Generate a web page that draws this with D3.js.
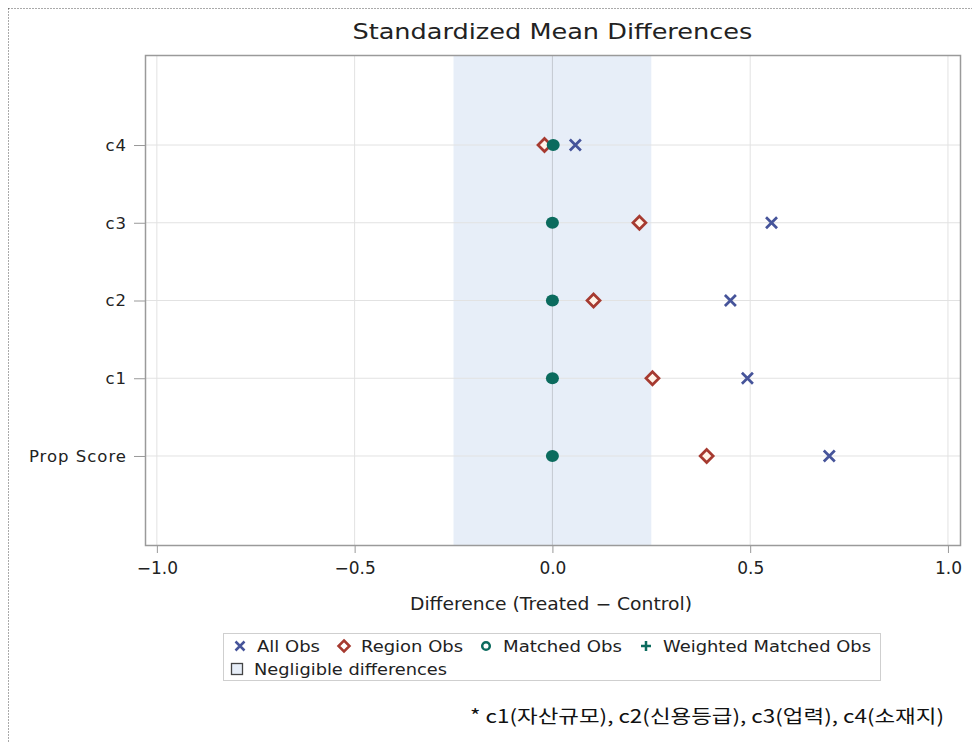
<!DOCTYPE html>
<html>
<head>
<meta charset="utf-8">
<script src="https://cdn.jsdelivr.net/npm/d3@7"></script>
<style>
  body { margin: 0; background: #fff; }
  svg { font-family: "DejaVu Sans", Verdana, sans-serif; }
</style>
</head>
<body>
<script>
// chart data
const categories = ["c4", "c3", "c2", "c1", "Prop Score"];
const allObs = [0.058, 0.554, 0.45, 0.493, 0.70];
const regionObs = [-0.02, 0.22, 0.104, 0.253, 0.39];
const matchedObs = [0.002, 0, 0, 0, 0];
const weightedObs = [0.002, 0, 0, 0, 0];
const xTicks = [-1.0, -0.5, 0.0, 0.5, 1.0];
const negligible = [-0.25, 0.25];

const width = 972, height = 742;
const margin = {top: 55, right: 11, bottom: 196, left: 145};

const colAll = "#46549a", colRegion = "#a63a30", colMatched = "#0b6b5e";
const textCol = "#222";

const svg = d3.select("body").append("svg")
  .attr("width", width)
  .attr("height", height);

// dotted outer border
svg.append("rect")
  .attr("x", 8.5).attr("y", 8.5)
  .attr("width", width + 20).attr("height", height + 20)
  .attr("fill", "none")
  .attr("stroke", "#555")
  .attr("stroke-dasharray", "1,2");

const x = d3.scaleLinear()
  .domain([-1.03, 1.033])
  .range([margin.left, width - margin.right]);

const y = d3.scalePoint()
  .domain(categories)
  .range([margin.top, height - margin.bottom])
  .padding(1.158);

const plotTop = margin.top, plotBottom = height - margin.bottom;

// negligible band
svg.append("rect")
  .attr("x", x(negligible[0]))
  .attr("y", plotTop)
  .attr("width", x(negligible[1]) - x(negligible[0]))
  .attr("height", plotBottom - plotTop)
  .attr("fill", "#e7eef8");

// grid lines
svg.selectAll("line.vgrid")
  .data(xTicks)
  .enter().append("line")
  .attr("class", "vgrid")
  .attr("x1", d => x(d)).attr("x2", d => x(d))
  .attr("y1", plotTop).attr("y2", plotBottom)
  .attr("stroke", d => d === 0 ? "#c4c8d0" : "#e2e2e2")
  .attr("stroke-width", 1);

svg.selectAll("line.hgrid")
  .data(categories)
  .enter().append("line")
  .attr("class", "hgrid")
  .attr("x1", margin.left).attr("x2", width - margin.right)
  .attr("y1", d => y(d)).attr("y2", d => y(d))
  .attr("stroke", "#e2e2e2");

// axes
const xAxis = svg.append("g")
  .attr("transform", `translate(0,${plotBottom})`)
  .call(d3.axisBottom(x).tickValues(xTicks).tickSize(7).tickPadding(9)
    .tickFormat(d => d3.format(".1f")(d).replace("-", "\u2212")));
xAxis.select(".domain").remove();
xAxis.selectAll("line").attr("stroke", "#999");
xAxis.selectAll("text").attr("font-size", 17).attr("fill", textCol)
  .attr("font-family", "DejaVu Sans");

const yAxis = svg.append("g")
  .attr("transform", `translate(${margin.left},0)`)
  .call(d3.axisLeft(y).tickSize(11).tickPadding(7));
yAxis.select(".domain").remove();
yAxis.selectAll("line").attr("stroke", "#999");
yAxis.selectAll("text").attr("font-size", 16.5).attr("fill", textCol)
  .attr("font-family", "DejaVu Sans").attr("letter-spacing", "1px");

// plot frame
svg.append("rect")
  .attr("x", margin.left + 0.5).attr("y", plotTop + 0.5)
  .attr("width", width - margin.right - margin.left - 1)
  .attr("height", plotBottom - plotTop - 1)
  .attr("fill", "none")
  .attr("stroke", "#9a9a9a")
  .attr("stroke-width", 1.5);

// title and axis label
svg.append("text")
  .attr("x", x(0)).attr("y", 39)
  .attr("text-anchor", "middle")
  .attr("font-size", 21)
  .attr("fill", textCol)
  .attr("textLength", 400)
  .attr("lengthAdjust", "spacingAndGlyphs")
  .text("Standardized Mean Differences");

svg.append("text")
  .attr("x", 551).attr("y", 610)
  .attr("text-anchor", "middle")
  .attr("font-size", 17)
  .attr("fill", textCol)
  .attr("textLength", 282)
  .attr("lengthAdjust", "spacingAndGlyphs")
  .text("Difference (Treated \u2212 Control)");

// markers
const cross = (s) => `M${-s},${-s}L${s},${s}M${s},${-s}L${-s},${s}`;
const diamond = (s) => `M0,${-s}L${s},0L0,${s}L${-s},0Z`;
const plus = (s) => `M${-s},0L${s},0M0,${-s}L0,${s}`;

svg.selectAll("path.weighted")
  .data(weightedObs)
  .enter().append("path")
  .attr("class", "weighted")
  .attr("transform", (d, i) => `translate(${x(d)},${y(categories[i])})`)
  .attr("d", plus(4))
  .attr("stroke", colMatched).attr("stroke-width", 2.5);

svg.selectAll("path.region")
  .data(regionObs)
  .enter().append("path")
  .attr("class", "region")
  .attr("transform", (d, i) => `translate(${x(d)},${y(categories[i])})`)
  .attr("d", diamond(6.5))
  .attr("fill", "#fff3e8")
  .attr("stroke", colRegion).attr("stroke-width", 2.7);

svg.selectAll("ellipse.matched")
  .data(matchedObs)
  .enter().append("ellipse")
  .attr("class", "matched")
  .attr("cx", d => x(d))
  .attr("cy", (d, i) => y(categories[i]))
  .attr("rx", 6.5).attr("ry", 6)
  .attr("fill", colMatched);

svg.selectAll("path.all")
  .data(allObs)
  .enter().append("path")
  .attr("class", "all")
  .attr("transform", (d, i) => `translate(${x(d)},${y(categories[i])})`)
  .attr("d", cross(5.5))
  .attr("stroke", colAll).attr("stroke-width", 2.7);

// legend
const legend = svg.append("g");
legend.append("rect")
  .attr("x", 223.5).attr("y", 633.5)
  .attr("width", 657).attr("height", 47)
  .attr("fill", "#fff")
  .attr("stroke", "#cfcfcf");

const legendItems = [
  {label: "All Obs", sym: "x", x: 240, len: 63},
  {label: "Region Obs", sym: "d", x: 344, len: 102},
  {label: "Matched Obs", sym: "o", x: 486, len: 119},
  {label: "Weighted Matched Obs", sym: "+", x: 646, len: 208}
];
const ly = 646;
legendItems.forEach(it => {
  const g = legend.append("g").attr("transform", `translate(${it.x},${ly})`);
  if (it.sym === "x") g.append("path").attr("d", cross(4.5)).attr("stroke", colAll).attr("stroke-width", 2.5);
  if (it.sym === "d") g.append("path").attr("d", diamond(5.5)).attr("fill", "#fff").attr("stroke", colRegion).attr("stroke-width", 2.5);
  if (it.sym === "o") g.append("circle").attr("r", 3.8).attr("fill", "#fff").attr("stroke", colMatched).attr("stroke-width", 2.5);
  if (it.sym === "+") g.append("path").attr("d", plus(5)).attr("stroke", colMatched).attr("stroke-width", 2.5);
  g.append("text").attr("x", 17).attr("y", 6)
    .attr("font-size", 16.5).attr("fill", textCol)
    .attr("textLength", it.len).attr("lengthAdjust", "spacingAndGlyphs")
    .text(it.label);
});
const lg2 = legend.append("g").attr("transform", `translate(237,669)`);
lg2.append("rect").attr("x", -5.5).attr("y", -5.5).attr("width", 11).attr("height", 11)
  .attr("fill", "#e7eef8").attr("stroke", "#444").attr("stroke-width", 1.3);
lg2.append("text").attr("x", 17).attr("y", 6)
  .attr("font-size", 16.5).attr("fill", textCol)
  .attr("textLength", 193).attr("lengthAdjust", "spacingAndGlyphs")
  .text("Negligible differences");

// footnote
svg.append("text")
  .attr("x", 470).attr("y", 723)
  .attr("font-family", "'Noto Sans CJK KR', sans-serif")
  .attr("font-size", 18.5)
  .attr("fill", "#111")
  .attr("textLength", 474)
  .attr("lengthAdjust", "spacingAndGlyphs")
  .text("* c1(자산규모), c2(신용등급), c3(업력), c4(소재지)");
</script>
</body>
</html>
